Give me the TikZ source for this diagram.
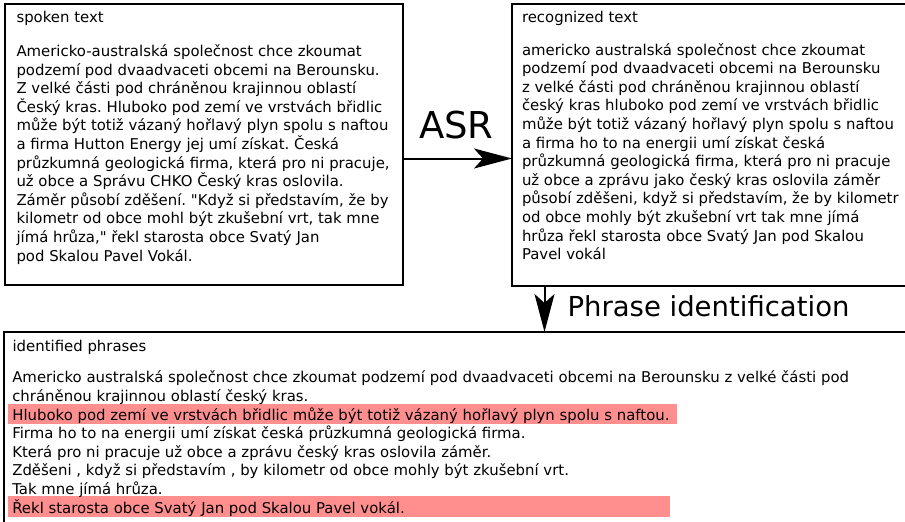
\documentclass[tikz,border=0pt]{standalone}
\usepackage{fontspec}
\setmainfont{DejaVu Sans}
\usetikzlibrary{arrows.meta}
\frenchspacing
\definecolor{phrasehl}{RGB}{255,143,143}
\tikzset{
  frame/.style={draw=black, line width=2pt, inner sep=0pt, outer sep=0pt, anchor=north west},
  % multi-line blocks are placed by the baseline of their last line
  body/.style={anchor=base west, inner sep=0pt, outer sep=0pt, align=left,
    font=\fontsize{14.9}{18.6}\selectfont\frenchspacing},
  stage/.style={anchor=base west, inner sep=0pt, outer sep=0pt},
  flow/.style={line width=2pt, -{Stealth[length=38pt,width=20pt,inset=9pt]}},
  hl/.style={fill=phrasehl, draw=none},
}
\begin{document}
\begin{tikzpicture}[x=1pt,y=-1pt]
\useasboundingbox (0,0) rectangle (905,522);

% the three text panels
\node[frame, minimum width=398pt, minimum height=281pt] (spoken) at (5,4) {};
\node[frame, minimum width=410pt, minimum height=282pt] (recognized) at (512,4) {};
\node[frame, minimum width=915pt, minimum height=200pt] (phrases) at (4,332) {};

% highlighted phrases
\fill[hl] (8.3,404.3) rectangle (677,424.3);
\fill[hl] (8.3,495.7) rectangle (670,516.7);

% spoken text
\node[body] (spokentitle) at (16.5,22.5) {spoken text};
\node[body] (spokenbody) at (16.5,261) {Americko-australská společnost chce zkoumat\\
podzemí pod dvaadvaceti obcemi na Berounsku.\\
Z velké části pod chráněnou krajinnou oblastí\\
Český kras. Hluboko pod zemí ve vrstvách břidlic\\
může být totiž vázaný hořlavý plyn spolu s naftou\\
a firma Hutton Energy jej umí získat. Česká\\
průzkumná geologická firma, která pro ni pracuje,\\
už obce a Správu CHKO Český kras oslovila.\\
Záměr působí zděšení. \textquotedbl Když si představím, že by\\
kilometr od obce mohl být zkušební vrt, tak mne\\
jímá hrůza,\textquotedbl{} řekl starosta obce Svatý Jan\\
pod Skalou Pavel Vokál.};

% recognized text
\node[body] (recogtitle) at (522,22) {recognized text};
\node[body] (recogbody) at (522,259.6) {americko australská společnost chce zkoumat\\
podzemí pod dvaadvaceti obcemi na Berounsku\\
z velké části pod chráněnou krajinnou oblastí\\
český kras hluboko pod zemí ve vrstvách břidlic\\
může být totiž vázaný hořlavý plyn spolu s naftou\\
a firma ho to na energii umí získat česká\\
průzkumná geologická firma, která pro ni pracuje\\
už obce a zprávu jako český kras oslovila záměr\\
působí zděšeni, když si představím, že by kilometr\\
od obce mohly být zkušební vrt tak mne jímá\\
hrůza řekl starosta obce Svatý Jan pod Skalou\\
Pavel vokál};

% identified phrases
\node[body] (phrasetitle) at (12.6,351) {identified phrases};
\node[body] (phrasebody) at (12.3,513) {Americko australská společnost chce zkoumat podzemí pod dvaadvaceti obcemi na Berounsku z velké části pod\\
chráněnou krajinnou oblastí český kras.\\
Hluboko pod zemí ve vrstvách břidlic může být totiž vázaný hořlavý plyn spolu s naftou.\\
Firma ho to na energii umí získat česká průzkumná geologická firma.\\
Která pro ni pracuje už obce a zprávu český kras oslovila záměr.\\
Zděšeni , když si představím , by kilometr od obce mohly být zkušební vrt.\\
Tak mne jímá hrůza.\\
Řekl starosta obce Svatý Jan pod Skalou Pavel vokál.};

% processing steps
\coordinate (asrline) at (457,158.5);
\coordinate (phraseline) at (544.5,310);
\draw[flow] (spoken.east |- asrline) -- (recognized.west |- asrline);
\draw[flow] (recognized.south -| phraseline) -- (phrases.north -| phraseline);
\node[stage, font=\fontsize{37}{40}\selectfont] (asr) at (419,138) {ASR};
\node[stage, font=\fontsize{27.5}{32}\selectfont] (phraseid) at (567.5,316.7) {Phrase identification};
\end{tikzpicture}
\end{document}
